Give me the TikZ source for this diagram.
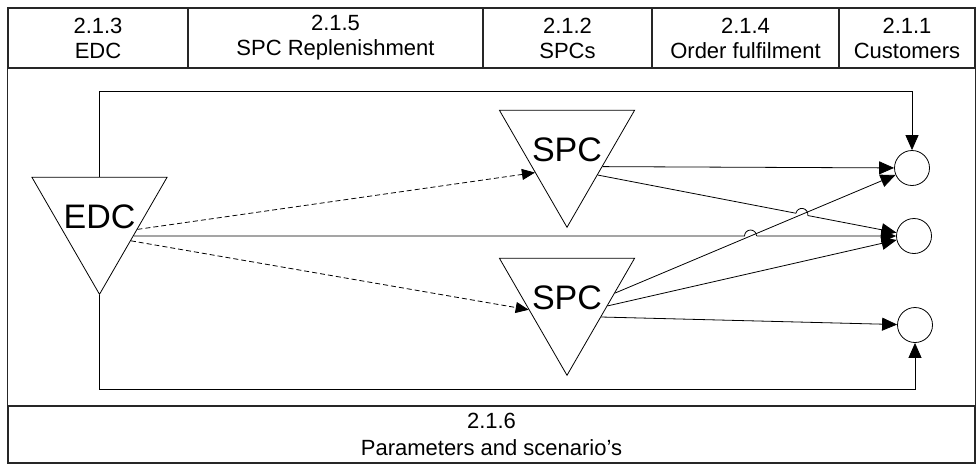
\documentclass[tikz,border=0pt]{standalone}
\usepackage{fontspec}
\setmainfont{Liberation Sans}
\usetikzlibrary{shapes.geometric, arrows.meta, calc, intersections}

\newcommand{\depotname}[1]{\raisebox{-12.2pt}[0pt][0pt]{\makebox[0pt]{#1}}}

\begin{document}
\begin{tikzpicture}[x=1pt, y=1pt,
            cell/.style={rectangle, draw=black!85, line width=1.1pt, minimum height=60, inner sep=0, align=center, font=\fontsize{22}{25}\selectfont},
            depot/.style={regular polygon, regular polygon sides=3, shape border rotate=180, draw, line width=0.8pt, minimum size=156, inner sep=0, text height=0pt, text depth=0pt, font=\fontsize{34}{34}\selectfont},
            cust/.style={circle, draw, line width=0.8pt, minimum size=35, inner sep=0},
            arrow/.style={-{Triangle[length=15pt, width=13pt]}, line width=0.8pt},
            supply/.style={-{Triangle[length=13pt, width=11pt]}, line width=0.8pt, dash pattern=on 5pt off 3pt},
            jump/.style={line width=0.8pt}
        ]
            \useasboundingbox (0,0) rectangle (979,-464);

% Header columns
            \node[cell, minimum width=180] (hdedc) at (98,-38) {2.1.3\\EDC};
            \node[cell, minimum width=295] (hdrepl) at (335.5,-38) {2.1.5\\SPC Replenishment};
            \node[cell, minimum width=169] (hdspcs) at (567.5,-38) {2.1.2\\SPCs};
            \node[cell, minimum width=187] (hdorder) at (745.5,-38) {2.1.4\\Order fulfilment};
            \node[cell, minimum width=136] (hdcust) at (907,-38) {2.1.1\\Customers};

% Footer and frame
            \node[cell, minimum width=967, minimum height=57, font=\fontsize{22}{27}\selectfont] (params) at (491.5,-434.5) {2.1.6\\Parameters and scenario's};
            \draw[black!85, line width=1.1pt] (hdedc.south west) rectangle (params.north east);

% Stock points and customers
            \node[depot] (edc) at (99.5,-216.3) {\depotname{EDC}};
            \node[depot] (spca) at (567,-149.3) {\depotname{SPC}};
            \node[depot] (spcb) at (567,-297.3) {\depotname{SPC}};
            \node[cust] (cust1) at (912,-168) {};
            \node[cust] (cust2) at (914,-236) {};
            \node[cust] (cust3) at (915,-325) {};
            \coordinate (toprun) at (0,-91);
            \coordinate (botrun) at (0,-389);

% Replenishment of the SPCs
            \draw[supply] (edc.-19) -- (spca.216);
            \draw[supply] (edc.-38) -- (spcb.198);

% Direct deliveries from the EDC
            \draw[arrow] (edc.90) -- (edc.90 |- toprun) -| (cust1.north);
            \draw[arrow] (edc.270) -- (edc.270 |- botrun) -| (cust3.south);
            \draw[arrow, name path=direct] (edc.-30) -- (cust2);

% Deliveries from the SPCs
            \draw[arrow] (spca.-26) -- (cust1);
            \draw[arrow, name path=crossa] (spca.-40) -- (cust2);
            \draw[arrow] (spcb.-12) -- (cust2);
            \draw[arrow] (spcb.-30) -- (cust3);
            \path[name path=crossb] (spcb.5) -- (cust1);

% Line jumps
            \path[name intersections={of=direct and crossb, by=jumpa}];
            \path[name intersections={of=crossa and crossb, by=jumpb}];
            \draw[white, line width=2.5pt] ($(jumpa)!6pt!(edc.-30)$) -- ($(jumpa)!-6pt!(edc.-30)$);
            \draw[white, line width=2.5pt] ($(jumpb)!6pt!(spca.-40)$) -- ($(jumpb)!-6pt!(spca.-40)$);
            \draw[jump] let \p1=($(cust2)-(edc.-30)$), \n1={atan2(\y1,\x1)} in
                ($(jumpa)!6pt!(edc.-30)$) arc[start angle=\n1+180, end angle=\n1, radius=6pt];
            \draw[jump] let \p1=($(cust2)-(spca.-40)$), \n1={atan2(\y1,\x1)} in
                ($(jumpb)!6pt!(spca.-40)$) arc[start angle=\n1+180, end angle=\n1, radius=6pt];
            \draw[arrow] (spcb.5) -- (cust1);

        \end{tikzpicture}
\end{document}
